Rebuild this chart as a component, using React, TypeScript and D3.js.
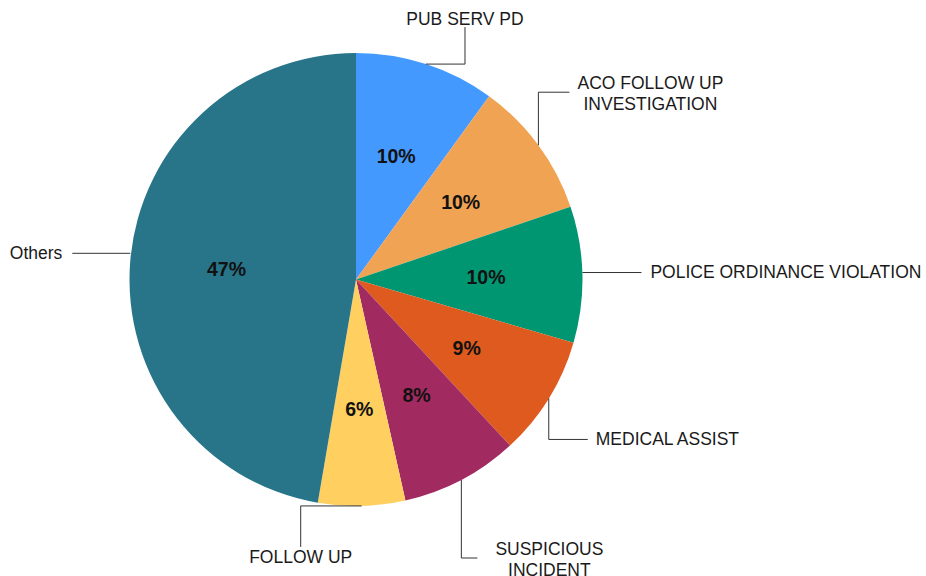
import { useEffect, useRef } from "react";
import * as d3 from "d3";

const categories = [
  "PUB SERV PD",
  "ACO FOLLOW UP INVESTIGATION",
  "POLICE ORDINANCE VIOLATION",
  "MEDICAL ASSIST",
  "SUSPICIOUS INCIDENT",
  "FOLLOW UP",
  "Others",
];
const values = [100, 98, 97, 86, 84, 62, 473];
const colors = ["#4499ff", "#f0a352", "#009672", "#de5a1e", "#a12a60", "#ffcf60", "#28758a"];

// label text lines (wrapped as in the original)
const labelLines = [
  ["PUB SERV PD"],
  ["ACO FOLLOW UP", "INVESTIGATION"],
  ["POLICE ORDINANCE VIOLATION"],
  ["MEDICAL ASSIST"],
  ["SUSPICIOUS", "INCIDENT"],
  ["FOLLOW UP"],
  ["Others"],
];

// leader line elbows and text placement, relative to the arc point
const labelLayout = [
  { oy: 0, legs: [[39, 0], [0, -37]], anchor: "middle", tx: 0, ty: -2 },
  { oy: 0, legs: [[0, -53], [31, 0]], anchor: "middle", tx: 81, ty: -3 },
  { oy: -2, legs: [[59, 0]], anchor: "start", tx: 9, ty: 5 },
  { oy: 0, legs: [[0, 41], [39, 0]], anchor: "start", tx: 8, ty: 6 },
  { oy: 0, legs: [[0, 78], [16, 0]], anchor: "middle", tx: 72, ty: -3 },
  { oy: 0, legs: [[-61, 0], [0, 41]], anchor: "middle", tx: 0, ty: 16 },
  { oy: -7, legs: [[-58, 0]], anchor: "end", tx: -10, ty: 6 },
];

interface Slice {
  name: string;
  value: number;
  color: string;
  lines: string[];
  idx: number;
}

export default function App() {
  const svgRef = useRef<SVGSVGElement>(null);

  useEffect(() => {
    if (!svgRef.current) return;
    const svg = d3.select(svgRef.current);
    svg.selectAll("*").remove();

    const cx = 356;
    const cy = 279.5;
    const radius = 226.5;

    const data: Slice[] = categories.map((name, i) => ({
      name,
      value: values[i],
      color: colors[i],
      lines: labelLines[i],
      idx: i,
    }));
    const total = d3.sum(values);

    const pie = d3.pie<Slice>().value(d => d.value).sort(null);
    const arcs = pie(data);

    const arc = d3.arc<d3.PieArcDatum<Slice>>().innerRadius(0).outerRadius(radius);
    const labelArc = d3.arc<d3.PieArcDatum<Slice>>().innerRadius(130).outerRadius(130);
    const edgeArc = d3.arc<d3.PieArcDatum<Slice>>().innerRadius(radius).outerRadius(radius);

    const g = svg.append("g").attr("transform", `translate(${cx},${cy})`);

    g.selectAll("path.slice")
      .data(arcs)
      .enter()
      .append("path")
      .attr("class", "slice")
      .attr("d", arc)
      .attr("fill", d => d.data.color);

    // percentage labels
    g.selectAll("text.pct")
      .data(arcs)
      .enter()
      .append("text")
      .attr("class", "pct")
      .attr("transform", d => `translate(${labelArc.centroid(d)})`)
      .attr("text-anchor", "middle")
      .attr("dy", "0.36em")
      .attr("font-family", "'Liberation Sans', Arial, sans-serif")
      .attr("font-weight", "bold")
      .attr("font-size", 19.5)
      .attr("fill", "#111")
      .text(d => `${Math.round((d.data.value / total) * 100)}%`);

    // leader lines + category labels
    arcs.forEach(d => {
      const lay = labelLayout[d.data.idx];
      const [ex, ey] = edgeArc.centroid(d);
      const x0 = ex;
      const y0 = ey + lay.oy;
      const pts: [number, number][] = [[x0, y0]];
      let x = x0;
      let y = y0;
      lay.legs.forEach(([dx, dy]) => {
        x += dx;
        y += dy;
        pts.push([x, y]);
      });
      g.append("path")
        .attr("d", d3.line()(pts))
        .attr("fill", "none")
        .attr("stroke", "#333")
        .attr("stroke-width", 1);

      const text = g.append("text")
        .attr("x", x + lay.tx)
        .attr("y", y + lay.ty)
        .attr("text-anchor", lay.anchor)
        .attr("font-family", "'Liberation Sans', Arial, sans-serif")
        .attr("font-size", 17.5)
        .attr("fill", "#1a1a1a");
      d.data.lines.forEach((ln, i) => {
        text.append("tspan")
          .attr("x", x + lay.tx)
          .attr("dy", i === 0 ? 0 : 20.5)
          .text(ln);
      });
    });
  }, []);

  return (
    <svg
      ref={svgRef}
      width={926}
      height={576}
      style={{ position: "absolute", left: 0, top: 0, background: "#fff" }}
    ></svg>
  );
}
